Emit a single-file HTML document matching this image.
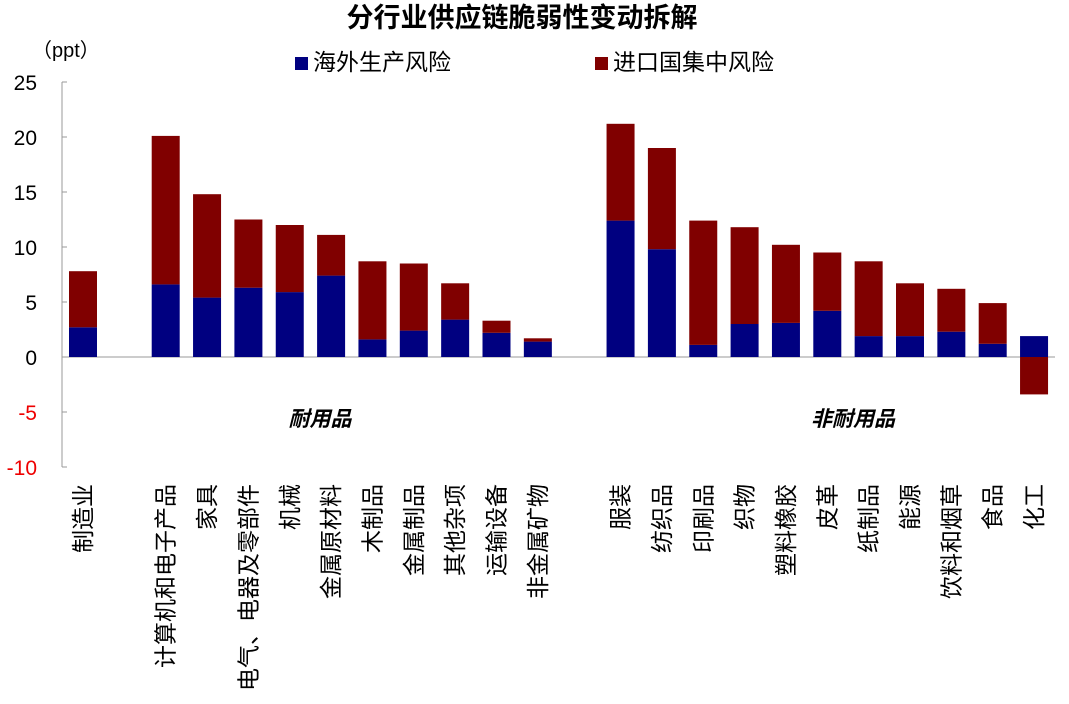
<!DOCTYPE html>
<html><head><meta charset="utf-8"><style>
body{margin:0;background:#fff;width:1069px;height:699px;overflow:hidden;font-family:"Liberation Sans","Noto Sans CJK SC",sans-serif}
</style></head><body>
<svg width="1069" height="699" id="c">
<text x="522" y="27" text-anchor="middle" font-size="27" font-weight="bold">分行业供应链脆弱性变动拆解</text>
<text x="32" y="57" font-size="20">（ppt）</text>
<rect x="295" y="57" width="13" height="13" fill="#000080"/>
<text x="313" y="70" font-size="23">海外生产风险</text>
<rect x="595" y="57" width="13" height="13" fill="#800000"/>
<text x="613" y="70" font-size="23">进口国集中风险</text>
<text x="320" y="426" font-size="21" font-weight="bold" font-style="italic" text-anchor="middle">耐用品</text>
<text x="853" y="426" font-size="21" font-weight="bold" font-style="italic" text-anchor="middle">非耐用品</text>
<g id="g"></g>
</svg>
<script>
const categories=["制造业","","计算机和电子产品","家具","电气、电器及零部件","机械","金属原材料","木制品","金属制品","其他杂项","运输设备","非金属矿物","","服装","纺织品","印刷品","织物","塑料橡胶","皮革","纸制品","能源","饮料和烟草","食品","化工"];
const overseas=[2.7,null,6.6,5.4,6.3,5.9,7.4,1.6,2.4,3.4,2.2,1.4,null,12.4,9.8,1.1,3.0,3.1,4.2,1.9,1.9,2.3,1.2,1.9];
const importConc=[5.1,null,13.5,9.4,6.2,6.1,3.7,7.1,6.1,3.3,1.1,0.3,null,8.8,9.2,11.3,8.8,7.1,5.3,6.8,4.8,3.9,3.7,-3.4];
const yTicks=[25,20,15,10,5,0,-5,-10];
const NS="http://www.w3.org/2000/svg";
const g=document.getElementById('g');
const y=v=>357-v*11;
const x=i=>83+i*41.35;
function mk(t,a){const e=document.createElementNS(NS,t);for(const k in a)e.setAttribute(k,a[k]);g.appendChild(e);return e;}
let ax=mk('line',{x1:62,y1:y(25),x2:62,y2:y(-10),stroke:'#999'});


yTicks.forEach(v=>{
 let t=mk('line',{x1:62,x2:67,y1:y(v),y2:y(v),stroke:'#999'});
 
 
 let l=mk('text',{x:37,y:y(v)+8,'text-anchor':'end','font-size':21,fill:v<0?'#e00':'#000'});
 l.textContent=v;
 
 
});
let base=mk('line',{x1:62,x2:1055,y1:y(0),y2:y(0),stroke:'#999'});


const w=28;
categories.forEach((c,i)=>{
 if(overseas[i]==null)return;
 const b=overseas[i],r=importConc[i];
 let rb=mk('rect',{x:x(i)-w/2,y:y(Math.max(b,0)),width:w,height:Math.abs(b)*11,fill:'#000080'});
 
 
 let top,h;
 if(r>=0){top=y(b+r);h=r*11;}else{top=y(0);h=-r*11;}
 let rr=mk('rect',{x:x(i)-w/2,y:top,width:w,height:h,fill:'#800000'});
 
 
 const lx=x(i), ly=484;
 let t=mk('text',{x:lx,y:ly,'font-size':23,'text-anchor':'end','dominant-baseline':'central',transform:`rotate(-90 ${lx} ${ly})`});
 t.textContent=c;
 
 
});
</script>
</body></html>
